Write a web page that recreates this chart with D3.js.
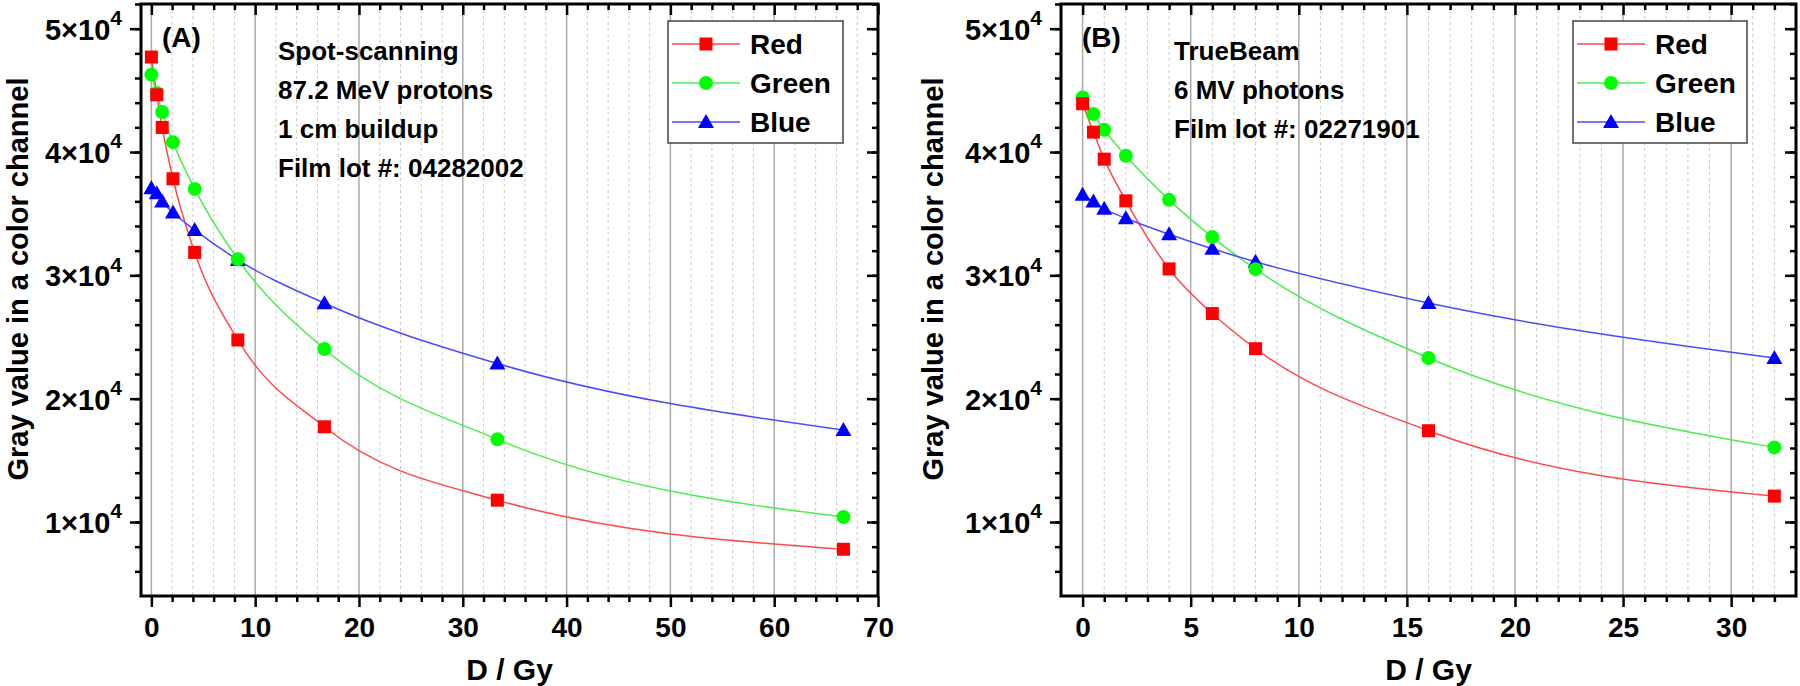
<!DOCTYPE html>
<meta charset="utf-8">
<script src="https://d3js.org/d3.v7.min.js"></script>
<style>
  body { margin: 0; background: #fff; }
  text { font-family: "Liberation Sans", Arial, sans-serif; font-weight: bold; }
</style>
<div id="chart"></div>
<script>
// ---- data ----
var doseA  = [0, 0.52, 1.04, 2.08, 4.17, 8.33, 16.67, 33.33, 66.67];
var redA   = [47700, 44640, 41990, 37830, 31860, 24760, 17720, 11770, 7790];
var greenA = [46270, 44780, 43240, 40800, 37010, 31300, 24030, 16700, 10410];
var blueA  = [37070, 36660, 35980, 35090, 33680, 31250, 27740, 22850, 17450];

var doseB  = [0, 0.5, 1, 2, 4, 6, 8, 16, 32];
var redB   = [43910, 41610, 39420, 36040, 30520, 26900, 24050, 17400, 12100];
var greenB = [44420, 43080, 41800, 39690, 36120, 33100, 30500, 23300, 16050];
var blueB  = [36530, 35980, 35390, 34630, 33330, 32150, 31100, 27750, 23300];

var channels = ["Red", "Green", "Blue"];
var yTicks = [10000, 20000, 30000, 40000, 50000];
var textA = ["Spot-scanning", "87.2 MeV protons", "1 cm buildup", "Film lot #: 04282002"];
var textB = ["TrueBeam", "6 MV photons", "Film lot #: 02271901"];

var markColor = {Red: "#ff0000", Green: "#00ff00", Blue: "#0000ff"};
var lineColor = {Red: "#ff4a4a", Green: "#4aee4a", Blue: "#4a4aff"};

var svg = d3.select("#chart").append("svg")
  .attr("width", 1800).attr("height", 686);

var y = d3.scaleLinear().domain([4000, 52000]).range([596, 4]);

function marker(g, name, cx, cy) {
  if (name == "Red") {
    g.append("rect").attr("x", cx - 6.5).attr("y", cy - 6.5)
      .attr("width", 13).attr("height", 13).attr("fill", markColor.Red);
  } else if (name == "Green") {
    g.append("circle").attr("cx", cx).attr("cy", cy).attr("r", 7)
      .attr("fill", markColor.Green);
  } else {
    g.append("path")
      .attr("d", "M" + cx + "," + (cy - 8) + "L" + (cx + 8) + "," + (cy + 6) + "L" + (cx - 8) + "," + (cy + 6) + "Z")
      .attr("fill", markColor.Blue);
  }
}

function drawPanel(p) {
  var x = d3.scaleLinear().domain(p.xDomain).range(p.xRange);
  var g = svg.append("g");
  var x0 = p.xRange[0], x1 = p.xRange[1], y0 = y.range()[1], y1 = y.range()[0];

  // vertical grid
  var minors = d3.range(0, p.xDomain[1], p.minorStep).filter(function(d){ return p.majors.indexOf(d) < 0; });
  g.selectAll(".gmin").data(minors).enter().append("line")
    .attr("x1", x).attr("x2", x).attr("y1", y0).attr("y2", y1)
    .attr("stroke", "#c8c8c8").attr("stroke-width", 1).attr("stroke-dasharray", "3,3");
  g.selectAll(".gmaj").data(p.majors.filter(function(d){ return x(d) < x1 - 2; })).enter().append("line")
    .attr("x1", x).attr("x2", x).attr("y1", y0).attr("y2", y1)
    .attr("stroke", "#aaaaaa").attr("stroke-width", 1.5);

  // axes
  function styleAxis(sel) {
    sel.select(".domain").remove();
    sel.selectAll(".tick line").attr("stroke", "#000").attr("stroke-width", 2.5);
  }
  var yMinor = d3.range(6000, 52001, 2000);
  g.append("g").attr("transform", "translate(0," + y1 + ")")
    .call(d3.axisBottom(x).tickValues(minors).tickSize(6).tickFormat("")).call(styleAxis);
  g.append("g").attr("transform", "translate(0," + y1 + ")")
    .call(d3.axisBottom(x).tickValues(p.majors).tickSize(11).tickPadding(10).tickFormat(d3.format("d")))
    .call(styleAxis)
    .selectAll("text").attr("font-size", "28px").attr("fill", "#000");
  g.append("g").attr("transform", "translate(0," + y0 + ")")
    .call(d3.axisBottom(x).tickValues(minors).tickSize(6).tickFormat("")).call(styleAxis);
  g.append("g").attr("transform", "translate(0," + y0 + ")")
    .call(d3.axisBottom(x).tickValues(p.majors).tickSize(11).tickFormat("")).call(styleAxis);

  g.append("g").attr("transform", "translate(" + x0 + ",0)")
    .call(d3.axisLeft(y).tickValues(yMinor).tickSize(6).tickFormat("")).call(styleAxis);
  var ya = g.append("g").attr("transform", "translate(" + x0 + ",0)")
    .call(d3.axisLeft(y).tickValues(yTicks).tickSize(11).tickPadding(8).tickFormat(""))
    .call(styleAxis);
  ya.selectAll(".tick text").each(function(d) {
    var t = d3.select(this).attr("font-size", "29px").attr("fill", "#000").attr("dy", "0.36em");
    t.append("tspan").text((d / 10000) + "\u00d710");
    t.append("tspan").attr("font-size", "21px").attr("dy", "-0.7em").text("4");
  });
  g.append("g").attr("transform", "translate(" + x1 + ",0)")
    .call(d3.axisLeft(y).tickValues(yMinor).tickSize(6).tickFormat("")).call(styleAxis);
  g.append("g").attr("transform", "translate(" + x1 + ",0)")
    .call(d3.axisLeft(y).tickValues(yTicks).tickSize(11).tickFormat("")).call(styleAxis);

  // frame
  g.append("rect").attr("x", x0).attr("y", y0).attr("width", x1 - x0).attr("height", y1 - y0)
    .attr("fill", "none").attr("stroke", "#000").attr("stroke-width", 3);

  // curves and markers
  var line = d3.line().curve(d3.curveMonotoneX)
    .x(function(d){ return x(d[0]); }).y(function(d){ return y(d[1]); });
  channels.forEach(function(c) {
    var pts = p.dose.map(function(d, i){ return [d, p.series[c][i]]; });
    g.append("path").attr("d", line(pts)).attr("fill", "none")
      .attr("stroke", lineColor[c]).attr("stroke-width", 1.5);
  });
  channels.slice().reverse().forEach(function(c) {
    p.dose.forEach(function(d, i){ marker(g, c, x(d), y(p.series[c][i])); });
  });

  // titles
  g.append("text").attr("x", (x0 + x1) / 2).attr("y", 680).attr("text-anchor", "middle")
    .attr("font-size", "30px").text("D / Gy");
  g.append("text").attr("transform", "translate(" + p.yTitleX + ",279) rotate(-90)")
    .attr("text-anchor", "middle").attr("font-size", "29px").text("Gray value in a color channel");

  g.append("text").attr("x", x0 + 21).attr("y", 47).attr("font-size", "28px").text(p.tag);
  g.selectAll(".note").data(p.notes).enter().append("text")
    .attr("x", p.noteX).attr("y", function(d, i){ return 60 + i * 39; })
    .attr("font-size", "26px").text(function(d){ return d; });

  // legend
  var L = p.legend;
  g.append("rect").attr("x", L.x).attr("y", 21).attr("width", L.w).attr("height", 122)
    .attr("fill", "#fff").attr("stroke", "#444").attr("stroke-width", 1.5);
  channels.forEach(function(c, i) {
    var ly = 44 + i * 39;
    g.append("line").attr("x1", L.x + 4).attr("x2", L.x + 72).attr("y1", ly).attr("y2", ly)
      .attr("stroke", lineColor[c]).attr("stroke-width", 1.5);
    marker(g, c, L.x + 38, ly);
    g.append("text").attr("x", L.x + 82).attr("y", ly + 10).attr("font-size", "28px").text(c);
  });
}

drawPanel({
  xDomain: [-1, 70], xRange: [141, 878], majors: [0, 10, 20, 30, 40, 50, 60, 70], minorStep: 2,
  dose: doseA, series: {Red: redA, Green: greenA, Blue: blueA},
  tag: "(A)", notes: textA, noteX: 278, yTitleX: 28, legend: {x: 668, w: 175}
});
drawPanel({
  xDomain: [-1, 33], xRange: [1061, 1796], majors: [0, 5, 10, 15, 20, 25, 30], minorStep: 1,
  dose: doseB, series: {Red: redB, Green: greenB, Blue: blueB},
  tag: "(B)", notes: textB, noteX: 1174, yTitleX: 943, legend: {x: 1573, w: 174}
});
</script>
